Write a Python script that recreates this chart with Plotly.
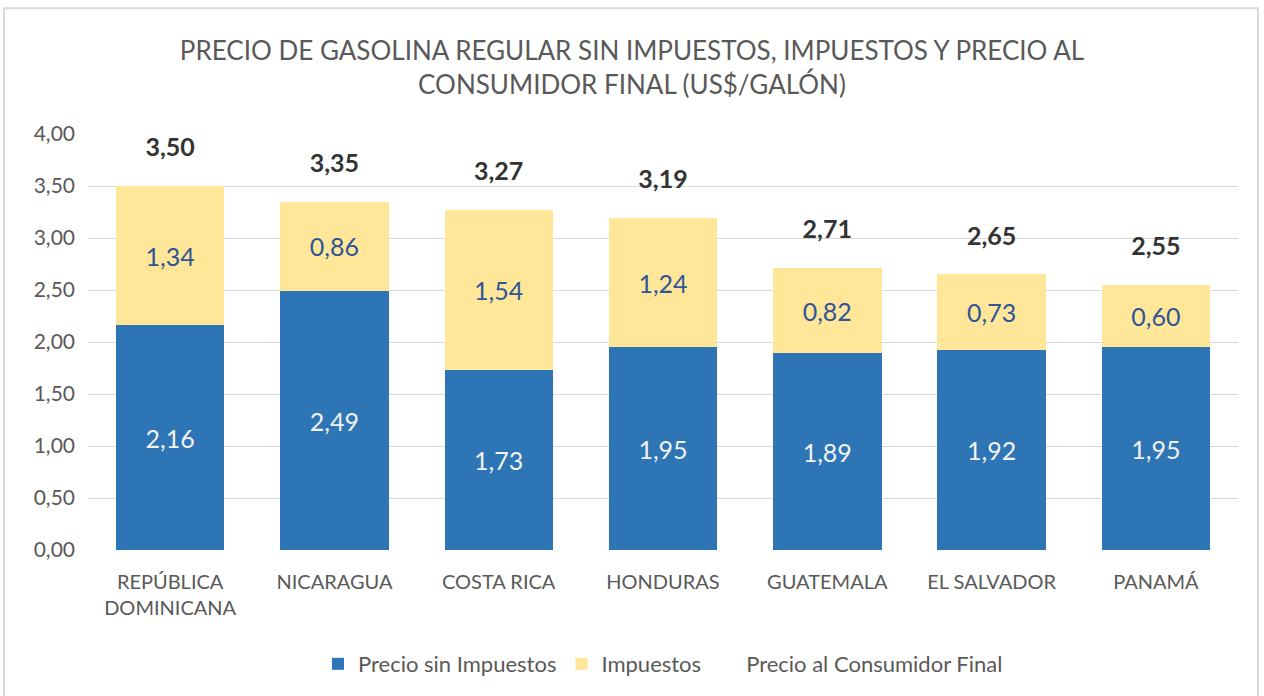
import plotly.graph_objects as go

paises = ["REPÚBLICA<br>DOMINICANA", "NICARAGUA", "COSTA RICA", "HONDURAS",
          "GUATEMALA", "EL SALVADOR", "PANAMÁ"]
precio_sin_impuestos = [2.16, 2.49, 1.73, 1.95, 1.89, 1.92, 1.95]
impuestos = [1.34, 0.86, 1.54, 1.24, 0.82, 0.73, 0.60]
precio_final = [3.50, 3.35, 3.27, 3.19, 2.71, 2.65, 2.55]
y_ticks = [0, 0.5, 1.0, 1.5, 2.0, 2.5, 3.0, 3.5, 4.0]

FONT = "Lato, Liberation Sans, sans-serif"

fig = go.Figure()
fig.add_trace(go.Bar(
    name="Precio sin Impuestos", x=paises, y=precio_sin_impuestos,
    marker=dict(color="#2E75B6", line=dict(width=0)),
    texttemplate="%{y:.2f}", textposition="inside", insidetextanchor="middle",
    textfont=dict(family=FONT, size=25, color="#F2F2F2"),
))
fig.add_trace(go.Bar(
    name="Impuestos", x=paises, y=impuestos,
    marker=dict(color="#FFE699", line=dict(width=0)),
    texttemplate="%{y:.2f}", textposition="inside", insidetextanchor="middle",
    textfont=dict(family=FONT, size=25, color="#2F5597"),
))
fig.add_trace(go.Scatter(
    name="Precio al Consumidor Final", x=paises, y=precio_final,
    mode="markers+text", texttemplate="%{y:.2f}", textposition="top center",
    marker=dict(size=36, color="rgba(0,0,0,0)"),
    textfont=dict(family=FONT, size=25, color="#333333", weight="bold"),
    cliponaxis=False,
))

fig.update_layout(
    barmode="stack", bargap=0.34, separators=",.",
    width=1264, height=696,
    paper_bgcolor="white", plot_bgcolor="white",
    margin=dict(l=88, r=26, t=134, b=145),
    title=dict(
        text="PRECIO DE GASOLINA REGULAR SIN IMPUESTOS, IMPUESTOS Y PRECIO AL<br>CONSUMIDOR FINAL (US$/GALÓN)",
        x=0.5, xanchor="center", y=0.914, yanchor="middle",
        font=dict(family=FONT, size=26, color="#595959"),
    ),
    font=dict(family=FONT, color="#595959"),
    xaxis=dict(tickfont=dict(size=20, color="#595959"), showline=False,
               ticks="", showgrid=False, ticklabelstandoff=18),
    yaxis=dict(range=[0, 4], tickvals=y_ticks, tickformat=".2f",
               tickfont=dict(size=21, color="#595959"),
               gridcolor="#D9D9D9", gridwidth=1, zeroline=False,
               showline=False, ticks="", ticklabelstandoff=12),
    legend=dict(orientation="h", x=0.5, xanchor="center", y=-0.271,
                yanchor="middle", font=dict(size=22, color="#595959"),
                itemwidth=30, traceorder="normal"),
    showlegend=True,
    shapes=[dict(type="rect", xref="paper", yref="paper",
                 x0=-0.073, x1=1.0174, y0=-0.45, y1=1.302,
                 line=dict(color="#D9D9D9", width=2), layer="below")],
)

fig.write_html("out.html", config={"displayModeBar": False},
               post_script="document.body.style.margin='0';")
